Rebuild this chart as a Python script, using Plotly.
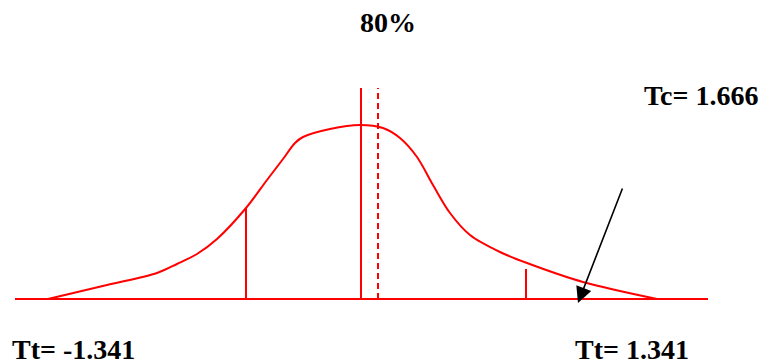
import plotly.graph_objects as go

# sketch of the t distribution (x = position, y = height above baseline)
curve_x = [48, 107, 157, 177, 197, 217, 246, 267, 283, 295, 303, 330, 360, 383, 400, 417, 433, 450, 470, 500, 527, 583, 657]
curve_y = [0, 14, 26, 35, 45, 60, 91, 119, 140, 156, 162, 170, 174, 171, 161, 142, 114, 86, 64, 47, 36, 17, 0]

baseline_x = [15, 708]
center_x = 361
mean_x = 378
line_top = 211
tt_left_x, tt_left_h = 246, 91
tt_right_x, tt_right_h = 526, 30

arrow_from = (623, 112)
arrow_to = (578, -4)

title_text = "80%"
tc_label = "Tc= 1.666"
tt_left_label = "Tt= -1.341"
tt_right_label = "Tt= 1.341"

red = "#ff0000"

fig = go.Figure()

fig.add_trace(go.Scatter(x=baseline_x, y=[0, 0], mode="lines",
                         line=dict(color=red, width=2)))
fig.add_trace(go.Scatter(x=curve_x, y=curve_y, mode="lines",
                         line=dict(color=red, width=2, shape="spline", smoothing=0.9)))
fig.add_trace(go.Scatter(x=[center_x, center_x], y=[0, line_top], mode="lines",
                         line=dict(color=red, width=2)))
fig.add_trace(go.Scatter(x=[mean_x, mean_x], y=[0, line_top], mode="lines",
                         line=dict(color=red, width=2, dash="6px,4px")))
fig.add_trace(go.Scatter(x=[tt_left_x, tt_left_x], y=[0, tt_left_h], mode="lines",
                         line=dict(color=red, width=2)))
fig.add_trace(go.Scatter(x=[tt_right_x, tt_right_x], y=[0, tt_right_h], mode="lines",
                         line=dict(color=red, width=2)))

# arrow pointing to the calculated t
fig.add_annotation(x=arrow_to[0], y=arrow_to[1], ax=arrow_from[0], ay=arrow_from[1],
                   xref="x", yref="y", axref="x", ayref="y", text="",
                   showarrow=True, arrowhead=2, arrowsize=2, arrowwidth=1.6,
                   arrowcolor="black")

font = dict(family="Liberation Serif, Times New Roman, serif", size=28, color="black")
labels = [(title_text, 388, 277), (tc_label, 701, 204),
          (tt_left_label, 73, -50), (tt_right_label, 632, -50)]
for txt, lx, ly in labels:
    fig.add_annotation(x=lx, y=ly, xref="x", yref="y", text="<b>" + txt + "</b>",
                       showarrow=False, font=font, xanchor="center", yanchor="middle")

# the page body has an 8px margin, so the figure is shrunk and the ranges shifted to match
fig.update_layout(
    width=765, height=356,
    margin=dict(l=0, r=0, t=0, b=0),
    paper_bgcolor="white", plot_bgcolor="white",
    showlegend=False,
    xaxis=dict(range=[8, 773], visible=False, fixedrange=True),
    yaxis=dict(range=[-65, 291], visible=False, fixedrange=True),
)

fig.write_html("out.html")
